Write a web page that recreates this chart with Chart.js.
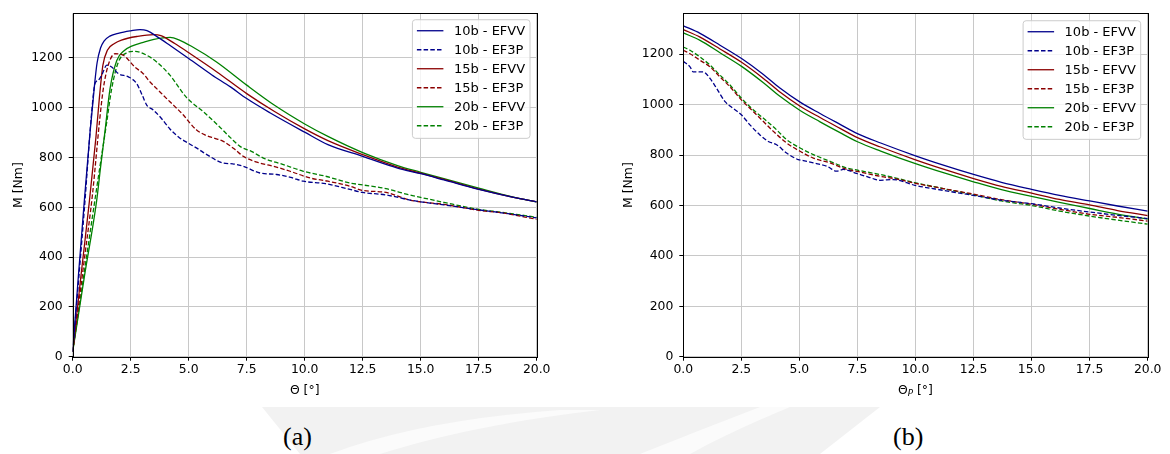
<!DOCTYPE html>
<html>
<head>
<meta charset="utf-8">
<script src="https://cdn.jsdelivr.net/npm/chart.js@4.4.1/dist/chart.umd.min.js"></script>
<style>
  body { margin: 0; background: #fff; width: 1170px; height: 454px; position: relative; overflow: hidden; }
  canvas { position: absolute; top: 0; }
  #chartA { left: 0; }
  #chartB { left: 600px; }
  #mark { position: absolute; left: 0; top: 0; }
  .cap { position: absolute; top: 422px; font-family: "Liberation Serif", serif; font-size: 26px; color: #000; }
</style>
</head>
<body>
<svg id="mark" width="1170" height="454">
  <path d="M262 407 L880 407 L820 454 L300 454 Z" fill="#f2f2f2"/>
  <path d="M330 454 Q420 420 560 410 L600 410 Q470 425 380 454 Z" fill="#fbfbfb"/>
  <path d="M640 454 Q700 430 760 407 L790 407 Q730 432 690 454 Z" fill="#fbfbfb"/>
</svg>
<canvas id="chartA" width="560" height="400"></canvas>
<canvas id="chartB" width="570" height="400"></canvas>
<div class="cap" style="left:283px">(a)</div>
<div class="cap" style="left:893px">(b)</div>
<script>
// (a) moment vs total rotation
const thetaA10V = [0, 0.25, 0.5, 0.75, 0.95, 1.05, 1.2, 1.35, 1.6, 2.0, 2.5, 2.9, 3.2, 3.7, 4.2, 5.0, 6.0, 6.8, 7.5, 8.5, 10, 11, 12.5, 14, 15, 16, 17.5, 19, 20];
const mA10V = [20, 330, 625, 904, 1100, 1180, 1240, 1268, 1288, 1300, 1309, 1314, 1310, 1282, 1250, 1198, 1132, 1084, 1037, 980, 902, 852, 805, 758, 735, 710, 672, 640, 622];
const thetaA10P = [0, 0.5, 0.82, 0.96, 1.1, 1.25, 1.47, 1.68, 1.97, 2.4, 2.76, 3.0, 3.19, 3.47, 3.8, 4.19, 4.6, 4.98, 5.4, 5.78, 6.49, 6.9, 7.35, 8.07, 8.79, 9.4, 9.94, 10.9, 11.95, 12.5, 13.5, 14.5, 15, 16, 17.5, 18.5, 20];
const mA10P = [20, 590, 984, 1097, 1110, 1131, 1171, 1164, 1137, 1124, 1097, 1050, 1011, 991, 960, 915, 880, 858, 835, 812, 778, 775, 765, 738, 732, 720, 705, 695, 672, 660, 650, 630, 622, 610, 590, 578, 558];
const thetaA15V = [0, 0.35, 0.72, 1.0, 1.15, 1.3, 1.5, 1.8, 2.1, 2.8, 3.5, 3.8, 4.4, 5.1, 6.2, 7.5, 8.7, 10, 11, 12.5, 14, 15, 16, 17.5, 19, 20];
const mA15V = [20, 320, 625, 880, 1040, 1170, 1232, 1258, 1272, 1287, 1294, 1290, 1258, 1215, 1145, 1057, 985, 915, 868, 812, 762, 737, 712, 673, 640, 622];
const thetaA15P = [0, 0.5, 0.85, 1.17, 1.32, 1.53, 1.82, 2.18, 2.68, 3.04, 3.33, 3.62, 4.19, 4.77, 5.06, 5.34, 5.7, 6.1, 6.49, 7.0, 7.35, 8.07, 8.65, 9.37, 10.23, 11.0, 11.95, 12.5, 13.5, 14.5, 15, 16, 17.5, 18.5, 20];
const mA15P = [20, 390, 650, 958, 1077, 1171, 1217, 1211, 1164, 1137, 1104, 1077, 1024, 971, 938, 911, 891, 878, 865, 832, 805, 778, 765, 745, 718, 705, 685, 668, 660, 630, 622, 612, 588, 578, 552];
const thetaA20V = [0, 0.5, 1.03, 1.2, 1.39, 1.61, 1.9, 2.2, 2.6, 3.0, 3.5, 4.2, 4.6, 5.1, 6.2, 7.5, 8.7, 10, 11, 12.5, 14, 15, 16, 17.5, 19, 20];
const mA20V = [20, 320, 625, 760, 904, 1077, 1190, 1228, 1250, 1262, 1275, 1283, 1272, 1248, 1184, 1091, 1010, 935, 885, 820, 768, 741, 715, 677, 641, 622];
const thetaA20P = [0, 0.5, 0.95, 1.2, 1.47, 1.68, 1.97, 2.33, 2.68, 3.19, 3.62, 4.19, 4.91, 5.63, 6.28, 6.8, 7.21, 7.7, 8.22, 9.08, 9.94, 10.9, 11.95, 12.5, 13.5, 14.5, 15, 16, 17.5, 18.5, 20];
const mA20P = [20, 340, 625, 780, 944, 1077, 1184, 1221, 1227, 1211, 1184, 1131, 1041, 984, 928, 880, 845, 825, 798, 772, 745, 725, 698, 690, 675, 650, 640, 620, 592, 580, 560];

// (b) moment vs plastic rotation
const thetaB10V = [0, 0.72, 1.58, 2.51, 3.45, 4.16, 5.03, 5.89, 6.75, 7.5, 8.5, 10, 11.2, 12.5, 13.7, 15, 16.2, 17.5, 18.7, 20];
const mB10V = [1313, 1283, 1236, 1183, 1120, 1066, 1010, 965, 922, 885, 848, 797, 760, 723, 692, 664, 640, 618, 598, 578];
const thetaB15V = thetaB10V;
const mB15V = [1298, 1268, 1221, 1168, 1104, 1050, 994, 949, 906, 869, 832, 781, 744, 707, 676, 649, 624, 602, 580, 560];
const thetaB20V = thetaB10V;
const mB20V = [1285, 1255, 1206, 1152, 1087, 1033, 977, 932, 889, 853, 816, 766, 730, 694, 663, 636, 612, 588, 566, 546];
const thetaB10P = [0, 0.29, 0.43, 0.86, 1.15, 1.44, 1.8, 2.15, 2.51, 2.87, 3.3, 3.66, 4.02, 4.45, 4.95, 5.17, 5.6, 6.18, 6.6, 6.89, 7.47, 8.0, 8.47, 9.04, 9.98, 11.2, 12.49, 13.78, 15, 16.2, 17.5, 18.7, 20];
const mB10P = [1172, 1150, 1130, 1130, 1104, 1064, 1012, 985, 959, 920, 880, 854, 841, 808, 782, 778, 769, 756, 736, 743, 727, 712, 700, 703, 680, 660, 640, 620, 607, 590, 574, 561, 548];
const thetaB15P = [0, 0.29, 0.72, 1.15, 1.58, 2.01, 2.51, 3.02, 3.45, 3.88, 4.45, 5.03, 5.6, 6.32, 7.04, 7.5, 8.47, 9.2, 10, 11.2, 12.5, 13.7, 15, 16.2, 17.5, 18.7, 20];
const mB15P = [1216, 1202, 1176, 1150, 1110, 1071, 1018, 972, 933, 894, 848, 815, 788, 769, 743, 735, 716, 705, 688, 667, 645, 623, 605, 585, 565, 553, 538];
const thetaB20P = [0, 0.29, 0.72, 1.15, 1.58, 2.01, 2.51, 3.02, 3.45, 4.02, 4.45, 5.03, 5.6, 6.32, 7.04, 7.5, 8.47, 9.2, 10, 11.2, 12.5, 13.7, 15, 16.2, 17.5, 18.7, 20];
const mB20P = [1229, 1216, 1189, 1157, 1117, 1078, 1025, 979, 946, 900, 861, 828, 802, 775, 749, 740, 723, 708, 690, 667, 642, 618, 600, 578, 558, 542, 526];

const seriesLabels = ['10b - EFVV', '10b - EF3P', '15b - EFVV', '15b - EF3P', '20b - EFVV', '20b - EF3P'];
const seriesColors = ['#00008b', '#00008b', '#8b0000', '#8b0000', '#008000', '#008000'];
const xTicks = [0, 2.5, 5, 7.5, 10, 12.5, 15, 17.5, 20];
const yTicks = [0, 200, 400, 600, 800, 1000, 1200];

const FONT = '"DejaVu Sans", sans-serif';
const FSIZE = 12.4;
const LEGEND_FSIZE = 13;
const DASH = [4.5, 2.2];

function pairs(xs, ys) {
  return xs.map((x, i) => ({ x: x, y: ys[i] }));
}

function buildDatasets(list) {
  return list.map(([xs, ys], i) => ({
    label: seriesLabels[i],
    data: pairs(xs, ys),
    borderColor: seriesColors[i],
    borderWidth: 1.3,
    borderDash: i % 2 ? DASH : [],
    pointRadius: 0,
    fill: false,
    cubicInterpolationMode: 'monotone'
  }));
}

// frame, legend box and x-axis label drawn on top
const decorations = {
  id: 'decorations',
  afterDatasetsDraw(chart, args, opts) {
    const { ctx, chartArea: a } = chart;
    ctx.save();
    ctx.strokeStyle = '#000';
    ctx.lineWidth = 1;
    ctx.strokeRect(Math.round(a.left) + 0.5, Math.round(a.top) + 0.5,
      Math.round(a.right) - Math.round(a.left), Math.round(a.bottom) - Math.round(a.top));

    // legend
    const w = 117.6, h = 118.6;
    const bx = a.right - opts.legendInset - w, by = a.top + opts.legendTop;
    ctx.beginPath();
    ctx.roundRect(bx, by, w, h, 3);
    ctx.fillStyle = 'rgba(255,255,255,0.8)';
    ctx.fill();
    ctx.strokeStyle = '#cccccc';
    ctx.stroke();
    ctx.font = LEGEND_FSIZE + 'px ' + FONT;
    ctx.textBaseline = 'middle';
    ctx.textAlign = 'left';
    chart.data.datasets.forEach((ds, i) => {
      const y = by + 11 + i * 19;
      ctx.beginPath();
      ctx.setLineDash(ds.borderDash);
      ctx.strokeStyle = ds.borderColor;
      ctx.lineWidth = ds.borderWidth;
      ctx.moveTo(bx + 4.5, y);
      ctx.lineTo(bx + 31, y);
      ctx.stroke();
      ctx.setLineDash([]);
      ctx.fillStyle = '#000';
      ctx.fillText(ds.label, bx + 41.5, y + 0.5);
    });

    // x-axis label, with optional subscript
    const parts = opts.xTitle;
    const subFont = 'italic ' + (FSIZE * 0.7) + 'px ' + FONT;
    let total = 0;
    parts.forEach(p => {
      ctx.font = p.sub ? subFont : FSIZE + 'px ' + FONT;
      total += ctx.measureText(p.t).width;
    });
    let x = (a.left + a.right) / 2 - total / 2;
    const base = a.bottom + 37.5;
    ctx.textBaseline = 'alphabetic';
    parts.forEach(p => {
      ctx.font = p.sub ? subFont : FSIZE + 'px ' + FONT;
      ctx.fillText(p.t, x, p.sub ? base + 2 : base);
      x += ctx.measureText(p.t).width;
    });
    ctx.restore();
  }
};

function makeChart(id, datasets, yMax, axisW, rightPad, titlePad, xTitle, legendInset, legendTop) {
  return new Chart(document.getElementById(id), {
    type: 'line',
    data: { datasets },
    options: {
      responsive: false,
      animation: false,
      events: [],
      layout: { padding: { top: 11, right: rightPad, left: 0, bottom: 0 } },
      plugins: {
        legend: { display: false },
        tooltip: { enabled: false },
        decorations: { xTitle, legendInset, legendTop }
      },
      scales: {
        x: {
          type: 'linear',
          min: 0,
          max: 20,
          afterBuildTicks: s => { s.ticks = xTicks.map(v => ({ value: v })); },
          afterFit: s => { s.height = 43.3; },
          border: { display: false },
          grid: { color: '#c8c8c8', lineWidth: 1, tickColor: '#000', tickLength: 4, tickWidth: 1 },
          ticks: {
            color: '#000',
            padding: 2,
            maxRotation: 0,
            font: { family: FONT, size: FSIZE },
            callback: v => v.toFixed(1)
          }
        },
        y: {
          min: 0,
          max: yMax,
          afterBuildTicks: s => { s.ticks = yTicks.map(v => ({ value: v })); },
          afterFit: s => { s.width = axisW; },
          border: { display: false },
          grid: { color: '#c8c8c8', lineWidth: 1, tickColor: '#000', tickLength: 4, tickWidth: 1 },
          ticks: {
            color: '#000',
            padding: 6,
            font: { family: FONT, size: FSIZE },
            callback: v => String(v)
          },
          title: {
            display: true,
            text: 'M [Nm]',
            color: '#000',
            font: { family: FONT, size: FSIZE },
            padding: { top: titlePad, bottom: 0 }
          }
        }
      }
    },
    plugins: [decorations]
  });
}

makeChart('chartA', buildDatasets([
  [thetaA10V, mA10V], [thetaA10P, mA10P],
  [thetaA15V, mA15V], [thetaA15P, mA15P],
  [thetaA20V, mA20V], [thetaA20P, mA20P]
]), 1379, 72.7, 23.3, 11, [{ t: 'Θ [°]' }], 6.7, 6.3);

makeChart('chartB', buildDatasets([
  [thetaB10V, mB10V], [thetaB10P, mB10P],
  [thetaB15V, mB15V], [thetaB15P, mB15P],
  [thetaB20V, mB20V], [thetaB20P, mB20P]
]), 1362, 83.3, 22.3, 21.5, [{ t: 'Θ' }, { t: 'P', sub: true }, { t: ' [°]' }], 7, 7.3);
</script>
</body>
</html>
